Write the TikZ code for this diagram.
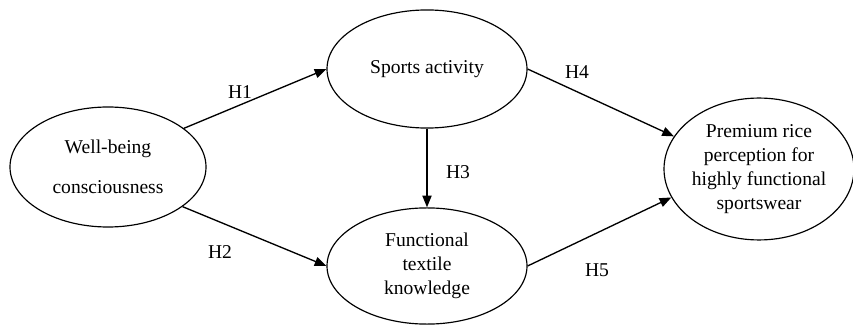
\documentclass[tikz,border=0pt]{standalone}
\usepackage{fontspec}
\setmainfont{Liberation Serif}
\usepackage{tikz}
\usetikzlibrary{shapes.geometric, arrows.meta, positioning}

\begin{document}
\begin{tikzpicture}[>={Triangle[length=7pt, width=5.5pt]},
		font=\fontsize{11.7}{14.3}\selectfont,
		construct/.style={draw, ellipse, line width=0.7pt, inner sep=0pt, align=center},
		path_arrow/.style={->, line width=0.8pt},
		hyp/.style={inner sep=0pt}]
		
		% fixed frame (reference proportions)
		\useasboundingbox (0,0) rectangle (17.913,6.846);
		
		% ---------------------------------------------------------
		% Constructs
		% ---------------------------------------------------------
		\node[construct, minimum width=4.116cm, minimum height=2.52cm] (wellbeing) at (2.268, 3.339) {Well-being\\[9.6pt]consciousness};
		\node[construct, minimum width=4.2cm, minimum height=2.48cm] (sports) at (8.967, 5.397) {Sports activity};
		\node[construct, minimum width=4.2cm, minimum height=2.44cm] (functional) at (8.967, 1.26) {Functional\\textile\\knowledge};
		\node[construct, minimum width=3.906cm, minimum height=2.98cm] (premium) at (15.939, 3.297) {Premium rice\\perception for\\highly functional\\sportswear};
		
		% ---------------------------------------------------------
		% Hypothesised paths
		% ---------------------------------------------------------
		\draw[path_arrow] (wellbeing.27) -- (sports.west);
		\draw[path_arrow] (wellbeing.-28) -- (functional.west);
		\draw[path_arrow] (sports.south) -- (functional.north);
		\draw[path_arrow] (sports.east) -- (premium.159);
		\draw[path_arrow] (functional.east) -- (premium.198);
		
		% Path labels
		\node[hyp] (lab_h1) at (5.04, 4.914) {H1};
		\node[hyp] (lab_h2) at (4.62, 1.554) {H2};
		\node[hyp] (lab_h3) at (9.618, 3.234) {H3};
		\node[hyp] (lab_h4) at (12.117, 5.334) {H4};
		\node[hyp] (lab_h5) at (12.537, 1.176) {H5};
		
	\end{tikzpicture}
\end{document}
